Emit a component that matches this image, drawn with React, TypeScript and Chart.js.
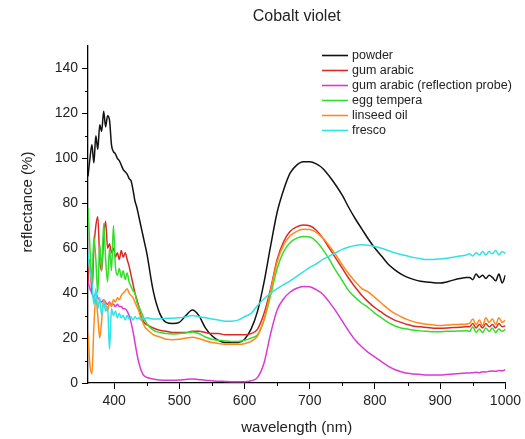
import { useEffect, useRef } from "react";
import { Chart, registerables } from "chart.js";

Chart.register(...registerables);

// Text
const chartTitle = "Cobalt violet";
const xAxisTitle = "wavelength (nm)";
const yAxisTitle = "reflectance (%)";

// Wavelength grid (nm): dense in the noisy blue end, coarser through the smooth band
const wavelengths = [
  360, 363, 366, 369, 372, 375, 378, 381, 384, 387, 390, 393, 396, 399, 402, 405,
  408, 411, 414, 417, 420, 423, 426, 429, 432, 435, 438, 441, 444, 447, 450,
  460, 470, 480, 490, 500, 510, 520, 530, 540, 550, 560, 570, 580, 590, 600, 610,
  620, 630, 640, 650, 660, 670, 680, 690, 700, 710, 720, 730, 740, 750, 760, 770,
  780, 790, 800, 810, 820, 830, 840, 850, 860, 870, 880, 890, 900, 910, 920, 930, 940,
  945, 950, 955, 960, 965, 970, 975, 980, 985, 990, 995, 1000,
];

// Reflectance (%) per sample preparation
const powder = [
  92, 100, 106, 98, 110, 104, 115, 112, 121, 114, 119, 117, 106, 103, 102, 100,
  99, 97, 95, 94, 93, 91, 90, 86, 81, 78, 74, 70, 66, 62, 58,
  41, 31, 27, 26.5, 27, 30, 32.5, 30, 24.5, 21, 19, 18, 18, 18, 19.5, 24,
  32, 45, 61, 76, 86, 93.5, 97, 98.5, 98.5, 97.5, 95.5, 92, 88, 83.5, 78, 73,
  68.5, 64, 60, 56.5, 53, 50.5, 48.5, 47, 46, 45.3, 45, 44.6, 44.5, 45, 45.8, 46.5, 47,
  47, 46, 48.5, 47, 48, 46.5, 48, 47, 45.5, 48.5, 44.5, 48,
];

const gumArabic = [
  45, 55, 40, 60, 70, 74, 55, 50, 65, 72, 60, 62, 58, 60, 56, 58,
  55, 59, 56, 58, 55, 52, 48, 44, 40, 37, 34, 30, 28, 26.5, 26,
  24.5, 23.5, 23, 22.5, 22.5, 22.5, 23, 23, 22.5, 22, 22, 21.5, 21.5, 21.5, 21.5, 22,
  24, 31, 42, 55, 63, 67.5, 69.5, 70.3, 70, 68, 64.5, 60, 55.5, 51, 46.5, 42.5,
  39, 36, 33.5, 31.5, 29.5, 28, 27, 26, 25.3, 25, 24.7, 24.4, 24.4, 24.5, 24.7, 24.8, 25,
  25, 26.5, 24.5, 26, 24.5, 26.5, 25, 26, 24.5, 26.5, 25, 25.5,
];

const gumArabicProbe = [
  45, 42, 40, 38, 40, 38, 37, 36, 37, 36, 35, 36, 35, 35, 34, 35,
  34, 34, 33, 33, 32, 30, 27, 23, 18, 13, 9, 6, 4, 3, 2.5,
  1.8, 1.3, 1.2, 1.2, 1.3, 1.6, 1.8, 1.5, 1.2, 1, 0.8, 0.7, 0.6, 0.6, 0.6, 1,
  2.5, 9, 22, 32.5, 37.5, 40.5, 42.2, 43, 42.8, 41.5, 39.5, 36, 32, 27.5, 23, 19,
  16, 13.5, 11.5, 9.5, 7.5, 6, 5, 4.3, 4, 3.8, 3.6, 3.6, 3.6, 3.8, 4, 4.2, 4.4,
  4.5, 4.6, 4.8, 4.6, 5, 4.9, 5.2, 5.3, 5.2, 5.6, 5.4, 6,
];

const eggTempera = [
  78, 60, 45, 65, 55, 40, 62, 50, 71, 55, 45, 60, 50, 70, 52, 48,
  51, 47, 50, 46, 49, 45, 43, 41, 40, 36, 34, 32, 30, 28, 26.5,
  23.5, 22.5, 22, 21.8, 22, 22.3, 22.7, 22, 20.5, 19.5, 19, 18.7, 18.5, 18.5, 19, 20,
  21.5, 28, 39, 51, 58.5, 62.5, 64.5, 65.2, 65, 63, 59.5, 55, 50, 45.5, 41, 38,
  35.5, 33.5, 31, 29, 27, 25.5, 24.5, 24, 23.5, 23.2, 23, 22.8, 22.8, 23, 23, 23.2, 23.3,
  23, 25, 22.5, 24, 22.5, 24.5, 23, 24.5, 22.5, 24, 23, 24,
];

const linseedOil = [
  22, 8, 4, 25, 38, 30, 20, 28, 37, 35, 32, 36, 34, 37, 36, 38,
  37, 39, 40, 41, 42, 40, 39, 38, 36, 34, 32, 29, 27, 25, 24,
  21.5, 20.5, 19.5, 19.3, 19.5, 20, 20.4, 19.8, 18.8, 18, 17.6, 17.3, 17.2, 17.2, 17.5, 18.5,
  21, 28.5, 41, 54, 61.5, 65.5, 67.5, 68.4, 68.3, 67, 64.5, 61, 57, 52.5, 48.5, 45,
  42, 40.5, 38, 35.5, 33, 31, 29.5, 28.2, 27.2, 26.6, 26.1, 25.8, 25.6, 25.8, 26, 26.1, 26.2,
  26.5, 28.5, 26, 28, 25.5, 29, 27, 28.5, 26, 29, 27, 28,
];

const fresco = [
  58, 50, 45, 35, 42, 33, 38, 30, 36, 32, 34, 15, 33, 30, 32, 29,
  31, 29, 30, 28, 30, 28.5, 29.5, 28, 29.5, 28.5, 29, 28, 29, 28.5, 29,
  28.5, 28.5, 28.8, 28.8, 29, 29.5, 30, 29.5, 29, 28.5, 28, 27.5, 27.5, 28, 29.5, 31,
  34.5, 37.5, 40, 42, 43.8, 45.5, 47.5, 49.5, 51.5, 53, 55, 56.5, 58, 59.5, 60.5, 61.2,
  61.5, 61.3, 60.8, 60, 59, 58, 57.2, 56.5, 55.8, 55.3, 55, 55, 55.2, 55.5, 56, 56.5, 57,
  57.5, 56.5, 58, 57, 58.5, 57, 58.5, 57.5, 59, 57, 58.5, 57.5,
];

const seriesNames = [
  "powder",
  "gum arabic",
  "gum arabic (reflection probe)",
  "egg tempera",
  "linseed oil",
  "fresco",
];
const seriesValues = [powder, gumArabic, gumArabicProbe, eggTempera, linseedOil, fresco];
const seriesColors = ["#111111", "#d92b25", "#d93ad6", "#33dd2c", "#ff8a1c", "#2fe2e6"];

// Axis ranges and tick values
const xRange = [360, 1000];
const yRange = [0, 150];
const xMinorTicks = [450, 550, 650, 750, 850, 950];
const yMinorTicks = [10, 30, 50, 70, 90, 110, 130];

const FONT = "'Liberation Sans', Arial, Helvetica, sans-serif";
const TEXT = "#222";

// Minor ticks, titles and the in-plot legend
const decorations = {
  id: "decorations",
  afterDraw(chart: any) {
    const { ctx, chartArea, scales } = chart;
    const xs = scales.x;
    const ys = scales.y;
    ctx.save();
    ctx.strokeStyle = "#000";
    ctx.lineWidth = 1;
    for (const v of xMinorTicks) {
      const px = Math.round(xs.getPixelForValue(v)) + 0.5;
      ctx.beginPath();
      ctx.moveTo(px, chartArea.bottom);
      ctx.lineTo(px, chartArea.bottom + 3);
      ctx.stroke();
    }
    for (const v of yMinorTicks) {
      const py = Math.round(ys.getPixelForValue(v)) + 0.5;
      ctx.beginPath();
      ctx.moveTo(chartArea.left, py);
      ctx.lineTo(chartArea.left - 3, py);
      ctx.stroke();
    }

    ctx.fillStyle = TEXT;
    ctx.textAlign = "center";
    ctx.textBaseline = "middle";
    const midX = (chartArea.left + chartArea.right) / 2;
    ctx.font = `16px ${FONT}`;
    ctx.fillText(chartTitle, midX, 17);
    ctx.font = `15px ${FONT}`;
    ctx.fillText(xAxisTitle, midX, chartArea.bottom + 45);
    ctx.save();
    ctx.translate(28, 202);
    ctx.rotate(-Math.PI / 2);
    ctx.fillText(yAxisTitle, 0, 0);
    ctx.restore();

    // legend
    const lx = 322;
    const ly = 55.5;
    ctx.font = `12.5px ${FONT}`;
    ctx.textAlign = "left";
    seriesNames.forEach((name, i) => {
      const y = ly + i * 15;
      ctx.strokeStyle = seriesColors[i];
      ctx.lineWidth = 1.6;
      ctx.beginPath();
      ctx.moveTo(lx, y);
      ctx.lineTo(lx + 26, y);
      ctx.stroke();
      ctx.fillStyle = TEXT;
      ctx.fillText(name, lx + 30, y + 0.5);
    });
    ctx.restore();
  },
};

export default function App() {
  const canvasRef = useRef<HTMLCanvasElement | null>(null);

  useEffect(() => {
    document.body.style.margin = "0";
    const canvas = canvasRef.current;
    if (!canvas) return;

    const datasets = seriesNames.map((name, i) => ({
      label: name,
      data: wavelengths.map((w, j) => ({ x: w, y: seriesValues[i][j] })),
      borderColor: seriesColors[i],
      backgroundColor: seriesColors[i],
      borderWidth: 1.5,
      pointRadius: 0,
      fill: false,
      cubicInterpolationMode: "monotone" as const,
      order: seriesNames.length - i,
    }));

    const chart = new Chart(canvas, {
      type: "line",
      data: { datasets },
      options: {
        animation: false,
        responsive: false,
        devicePixelRatio: 1,
        layout: { padding: { top: 46, right: 18, left: 0, bottom: 0 } },
        plugins: {
          legend: { display: false },
          title: { display: false },
          tooltip: { enabled: false },
        },
        scales: {
          x: {
            type: "linear",
            min: xRange[0],
            max: xRange[1],
            afterFit: (s: any) => {
              s.height = 56;
            },
            ticks: {
              stepSize: 100,
              includeBounds: false,
              autoSkip: false,
              maxRotation: 0,
              padding: 4,
              color: TEXT,
              font: { family: FONT, size: 14 },
              callback: (v: any) => String(v),
            },
            grid: {
              drawOnChartArea: false,
              drawTicks: true,
              tickLength: 6,
              color: "#000",
              lineWidth: 1,
            },
            border: { display: true, color: "#000", width: 1.3 },
          },
          y: {
            type: "linear",
            min: yRange[0],
            max: yRange[1],
            afterFit: (s: any) => {
              s.width = 88;
            },
            ticks: {
              stepSize: 20,
              includeBounds: false,
              autoSkip: false,
              padding: 4,
              color: TEXT,
              font: { family: FONT, size: 14 },
              callback: (v: any) => String(v),
            },
            grid: {
              drawOnChartArea: false,
              drawTicks: true,
              tickLength: 6,
              color: "#000",
              lineWidth: 1,
            },
            border: { display: true, color: "#000", width: 1.3 },
          },
        },
      },
      plugins: [decorations],
    });

    return () => chart.destroy();
  }, []);

  return (
    <div style={{ width: 525, height: 439, background: "#fff" }}>
      <canvas ref={canvasRef} width={525} height={439} style={{ display: "block" }} />
    </div>
  );
}
